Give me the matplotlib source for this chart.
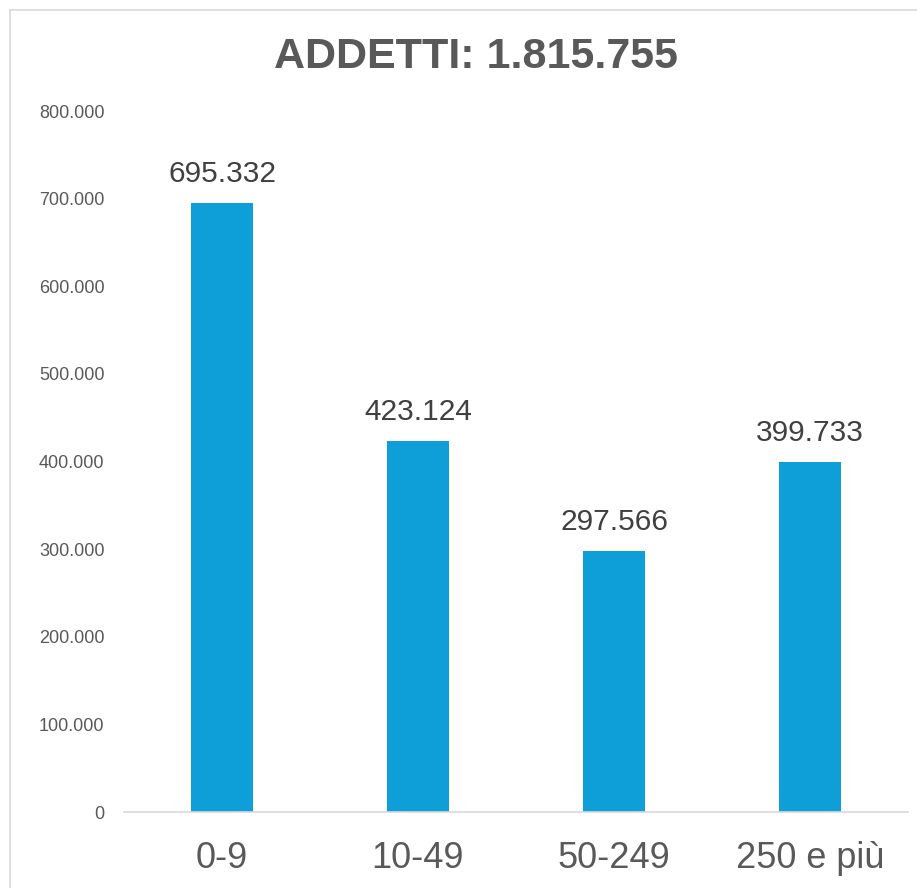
"""Istogramma addetti per classe dimensionale."""

import matplotlib
matplotlib.use("Agg")
import matplotlib.pyplot as plt
from matplotlib.lines import Line2D
from matplotlib.ticker import FuncFormatter

categories = ["0-9", "10-49", "50-249", "250 e più"]
addetti = [695332, 423124, 297566, 399733]
title = "ADDETTI: 1.815.755"


def it_fmt(v, _pos=None):
    return f"{int(round(v)):,}".replace(",", ".")


W, H = 917, 888
fig = plt.figure(figsize=(W / 100, H / 100), dpi=100)
plt.rcParams["font.family"] = ["Liberation Sans", "DejaVu Sans"]

ax = fig.add_axes([124 / W, 76 / H, (908 - 124) / W, (812 - 111) / H])
x = range(len(categories))
bars = ax.bar(x, addetti, width=0.316, color="#0E9FD8")
for b, v in zip(bars, addetti):
    ax.text(b.get_x() + b.get_width() / 2, v + 17000, it_fmt(v),
            ha="center", va="bottom", fontsize=21.5, color="#404040")

ax.set_xlim(-0.5, len(categories) - 0.5)
ax.set_ylim(0, 800000)
ax.set_yticks(range(0, 800001, 100000))
ax.yaxis.set_major_formatter(FuncFormatter(it_fmt))
ax.set_xticks(list(x))
ax.set_xticklabels(categories, fontsize=26, color="#595959")
ax.tick_params(axis="y", length=0, pad=14, labelsize=13, labelcolor="#595959")
ax.tick_params(axis="x", length=0, pad=21)
for s in ("top", "right", "left"):
    ax.spines[s].set_visible(False)
ax.spines["bottom"].set_color("#D9D9D9")
ax.spines["bottom"].set_linewidth(1.2)

fig.text(476 / W, 1 - 57 / H, title, ha="center", va="center",
         fontsize=31, fontweight="bold", color="#595959")

# bordo grigio del riquadro del grafico
fig.add_artist(Line2D([10 / W, 10 / W], [0, 1 - 10 / H], transform=fig.transFigure,
                      color="#D9D9D9", lw=1.2))
fig.add_artist(Line2D([10 / W, 1], [1 - 10 / H, 1 - 10 / H], transform=fig.transFigure,
                      color="#D9D9D9", lw=1.2))

fig.savefig("out.png", dpi=100)
